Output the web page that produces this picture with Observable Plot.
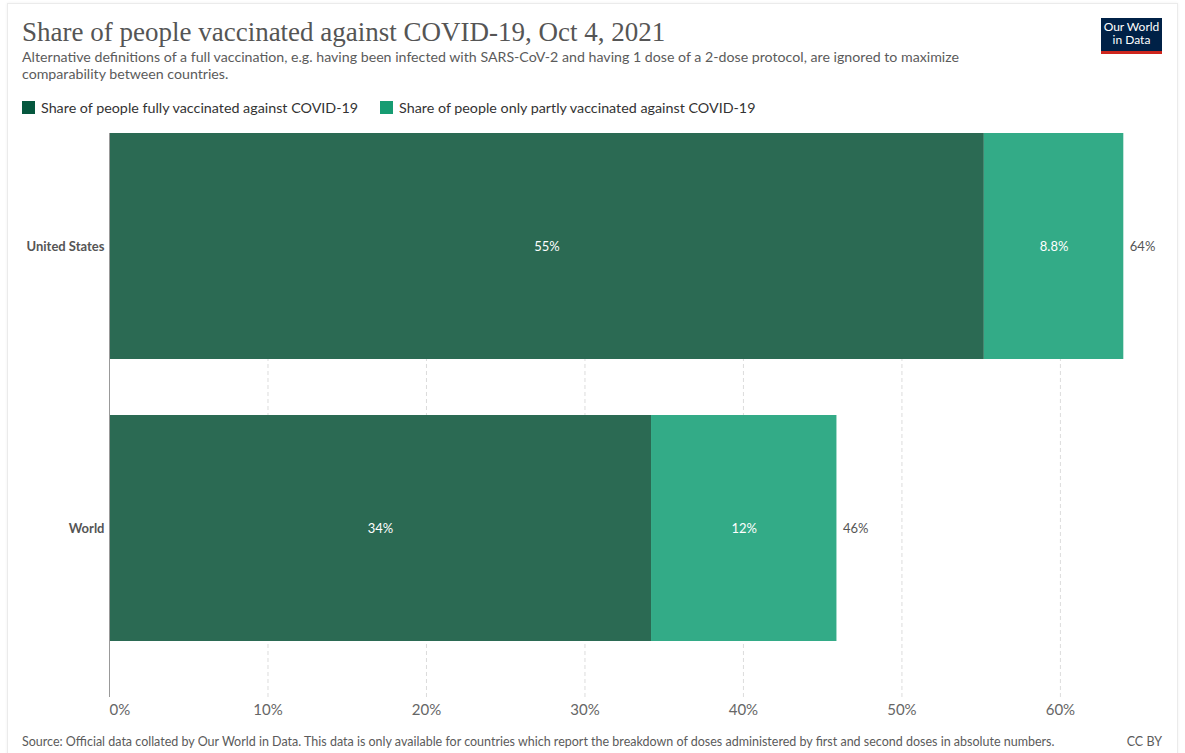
<!DOCTYPE html>
<html>
<head>
<meta charset="utf-8">
<script src="https://cdn.jsdelivr.net/npm/d3@7"></script>
<script src="https://cdn.jsdelivr.net/npm/@observablehq/plot@0.6"></script>
<style>
  html, body { margin: 0; padding: 0; background: #fff; }
  body { width: 1185px; height: 753px; position: relative; overflow: hidden; font-family: Lato, "Noto Sans", sans-serif; }
  #frame { position: absolute; left: 7px; top: 3px; width: 1169px; height: 780px; border: 1px solid #ebebeb; box-shadow: 0 0 3px rgba(0,0,0,0.06); }
  #title { position: absolute; left: 22px; top: 16px; font-family: "Liberation Serif", "DejaVu Serif", serif; font-size: 27px; color: #555; white-space: nowrap; line-height: 32px; }
  #subtitle { position: absolute; left: 22px; top: 48px; font-size: 14.2px; color: #5b5b5b; line-height: 17px; white-space: nowrap; }
  #legend { position: absolute; left: 22px; top: 99px; font-size: 14.3px; color: #333; display: flex; align-items: center; white-space: nowrap; }
  .sw { display: inline-block; width: 13px; height: 13px; margin-right: 6px; }
  .item { display: flex; align-items: center; margin-right: 22px; }
  #logo { position: absolute; left: 1101px; top: 18px; width: 61px; height: 31px; background: #002147; border-bottom: 3px solid #ce261e; color: #fff; font-size: 12px; line-height: 13px; text-align: center; padding-top: 2px; }
  #chart { position: absolute; left: 0; top: 120px; }
  #source { position: absolute; left: 22px; top: 734px; font-size: 12.5px; color: #5b5b5b; white-space: nowrap; }
  #cc { position: absolute; right: 23px; top: 734px; font-size: 12.5px; color: #5b5b5b; }
</style>
</head>
<body>
<div id="frame"></div>
<div id="title">Share of people vaccinated against COVID-19, Oct 4, 2021</div>
<div id="subtitle">Alternative definitions of a full vaccination, e.g. having been infected with SARS-CoV-2 and having 1 dose of a 2-dose protocol, are ignored to maximize<br>comparability between countries.</div>
<div id="legend"></div>
<div id="logo">Our World<br>in Data</div>
<div id="chart"></div>
<div id="source">Source: Official data collated by Our World in Data. This data is only available for countries which report the breakdown of doses administered by first and second doses in absolute numbers.</div>
<div id="cc">CC BY</div>
<script>
const countries = ["United States", "World"];
const fullyVaccinated = [55.2, 34.2];
const partlyVaccinated = [8.8, 11.7];
const seriesNames = ["Share of people fully vaccinated against COVID-19", "Share of people only partly vaccinated against COVID-19"];
const seriesColors = ["#2b6a53", "#33ab87"];
const legendColors = ["#05573e", "#169c72"];
const xTicks = [0, 10, 20, 30, 40, 50, 60];

const fmt = v => d3.format(".2r")(v) + "%";

const rows = countries.flatMap((c, i) => [
  {country: c, series: seriesNames[0], x1: 0, x2: fullyVaccinated[i], value: fullyVaccinated[i]},
  {country: c, series: seriesNames[1], x1: fullyVaccinated[i], x2: fullyVaccinated[i] + partlyVaccinated[i], value: partlyVaccinated[i]}
]);
const totals = countries.map((c, i) => ({country: c, total: fullyVaccinated[i] + partlyVaccinated[i]}));

// legend
const legend = document.getElementById("legend");
seriesNames.forEach((name, i) => {
  const item = document.createElement("div");
  item.className = "item";
  item.innerHTML = `<span class="sw" style="background:${legendColors[i]}"></span><span>${name}</span>`;
  legend.appendChild(item);
});

const chart = Plot.plot({
  width: 1185,
  height: 610,
  marginTop: 13,
  marginBottom: 33,
  marginLeft: 109,
  marginRight: 30,
  style: {fontFamily: "Lato, 'Noto Sans', sans-serif", background: "transparent", overflow: "visible"},
  x: {domain: [0, 66], axis: null},
  y: {domain: countries, axis: null, paddingInner: 0.2, paddingOuter: 0.1, align: 0},
  color: {domain: seriesNames, range: seriesColors},
  marks: [
    Plot.ruleX(xTicks.filter(d => d > 0), {stroke: "#dcdcdc", strokeDasharray: "4,3"}),
    Plot.barX(rows, {y: "country", x1: "x1", x2: "x2", fill: "series"}),
    Plot.ruleX([0], {stroke: "#999"}),
    Plot.text(rows, {y: "country", x: d => (d.x1 + d.x2) / 2, text: d => fmt(d.value), fill: "white", fontSize: 13}),
    Plot.text(totals, {y: "country", x: "total", text: d => fmt(d.total), dx: 6, textAnchor: "start", fill: "#555", fontSize: 13}),
    Plot.text(countries, {y: d => d, x: () => 0, text: d => d, dx: -5, textAnchor: "end", fill: "#555", fontSize: 13, fontWeight: "bold"}),
    Plot.text(xTicks.filter(d => d === 0), {x: d => d, frameAnchor: "bottom", dy: 17, text: d => d + "%", textAnchor: "start", fill: "#666", fontSize: 15}),
    Plot.text(xTicks.filter(d => d > 0), {x: d => d, frameAnchor: "bottom", dy: 17, text: d => d + "%", textAnchor: "middle", fill: "#666", fontSize: 15})
  ]
});
document.getElementById("chart").appendChild(chart);
</script>
</body>
</html>
